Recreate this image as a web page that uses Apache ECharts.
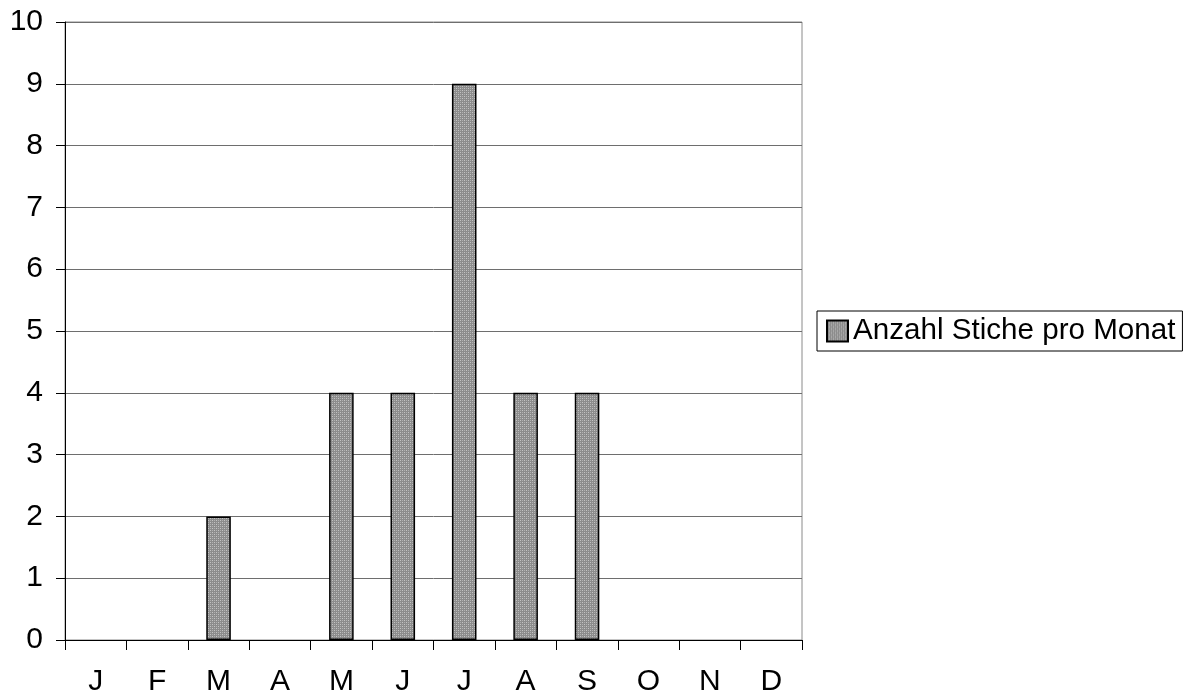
<!DOCTYPE html>
<html>
<head>
<meta charset="utf-8">
<script src="https://cdn.jsdelivr.net/npm/echarts@6/dist/echarts.min.js"></script>
<style>
  html, body { margin: 0; padding: 0; background: #fff; }
  #chart { width: 1188px; height: 697px; }
</style>
</head>
<body>
<div id="chart"></div>
<script>
// Monthly counts of stings
const months = ['J', 'F', 'M', 'A', 'M', 'J', 'J', 'A', 'S', 'O', 'N', 'D'];
const stings = [0, 0, 2, 0, 4, 4, 9, 4, 4, 0, 0, 0];
const seriesName = 'Anzahl Stiche pro Monat';

// Small dotted grey fill used for the bars and the legend swatch
function makePattern() {
  const c = document.createElement('canvas');
  c.width = 4; c.height = 4;
  const g = c.getContext('2d');
  g.fillStyle = '#8c8c8c';
  g.fillRect(0, 0, 4, 4);
  g.fillStyle = '#c4c4c4';
  g.fillRect(0, 0, 1, 1);
  g.fillRect(2, 2, 1, 1);
  g.fillStyle = '#b0b0b0';
  g.fillRect(2, 0, 1, 1);
  g.fillRect(0, 2, 1, 1);
  return c;
}
const pattern = { image: makePattern(), repeat: 'repeat' };

// empty months get no outline so nothing is drawn on the baseline
const barData = stings.map(v => v === 0 ? { value: v, itemStyle: { borderWidth: 0 } } : v);

const chart = echarts.init(document.getElementById('chart'), null, { renderer: 'canvas' });
chart.setOption({
  animation: false,
  textStyle: { fontFamily: 'Liberation Sans, Arial, sans-serif' },
  grid: {
    left: 65, right: 386, top: 22, bottom: 57,
    show: true, borderColor: '#8a8a8a', borderWidth: 1
  },
  legend: {
    show: true,
    data: [seriesName],
    orient: 'vertical',
    left: 817, top: 311,
    padding: [5, 7, 5, 9],
    itemWidth: 21, itemHeight: 21, itemGap: 0,
    borderColor: '#000', borderWidth: 1,
    icon: 'rect',
    textStyle: { fontSize: 29.6, color: '#000' }
  },
  xAxis: {
    type: 'category',
    data: months,
    boundaryGap: true,
    axisLine: { lineStyle: { color: '#000', width: 1 } },
    axisTick: { show: true, alignWithLabel: false, length: 10, lineStyle: { color: '#000' } },
    axisLabel: { fontSize: 30, color: '#000', margin: 27 },
    splitLine: { show: false }
  },
  yAxis: {
    type: 'value',
    min: 0, max: 10, interval: 1,
    axisLine: { show: true, lineStyle: { color: '#000', width: 1 } },
    axisTick: { show: true, length: 9, lineStyle: { color: '#000' } },
    axisLabel: { fontSize: 30, color: '#000', margin: 22 },
    splitLine: { show: true, lineStyle: { color: '#6e6e6e', width: 1 } }
  },
  series: [{
    name: seriesName,
    type: 'bar',
    data: barData,
    barWidth: '40%',
    itemStyle: { color: pattern, borderColor: '#000', borderWidth: 1.5 }
  }]
});
</script>
</body>
</html>
